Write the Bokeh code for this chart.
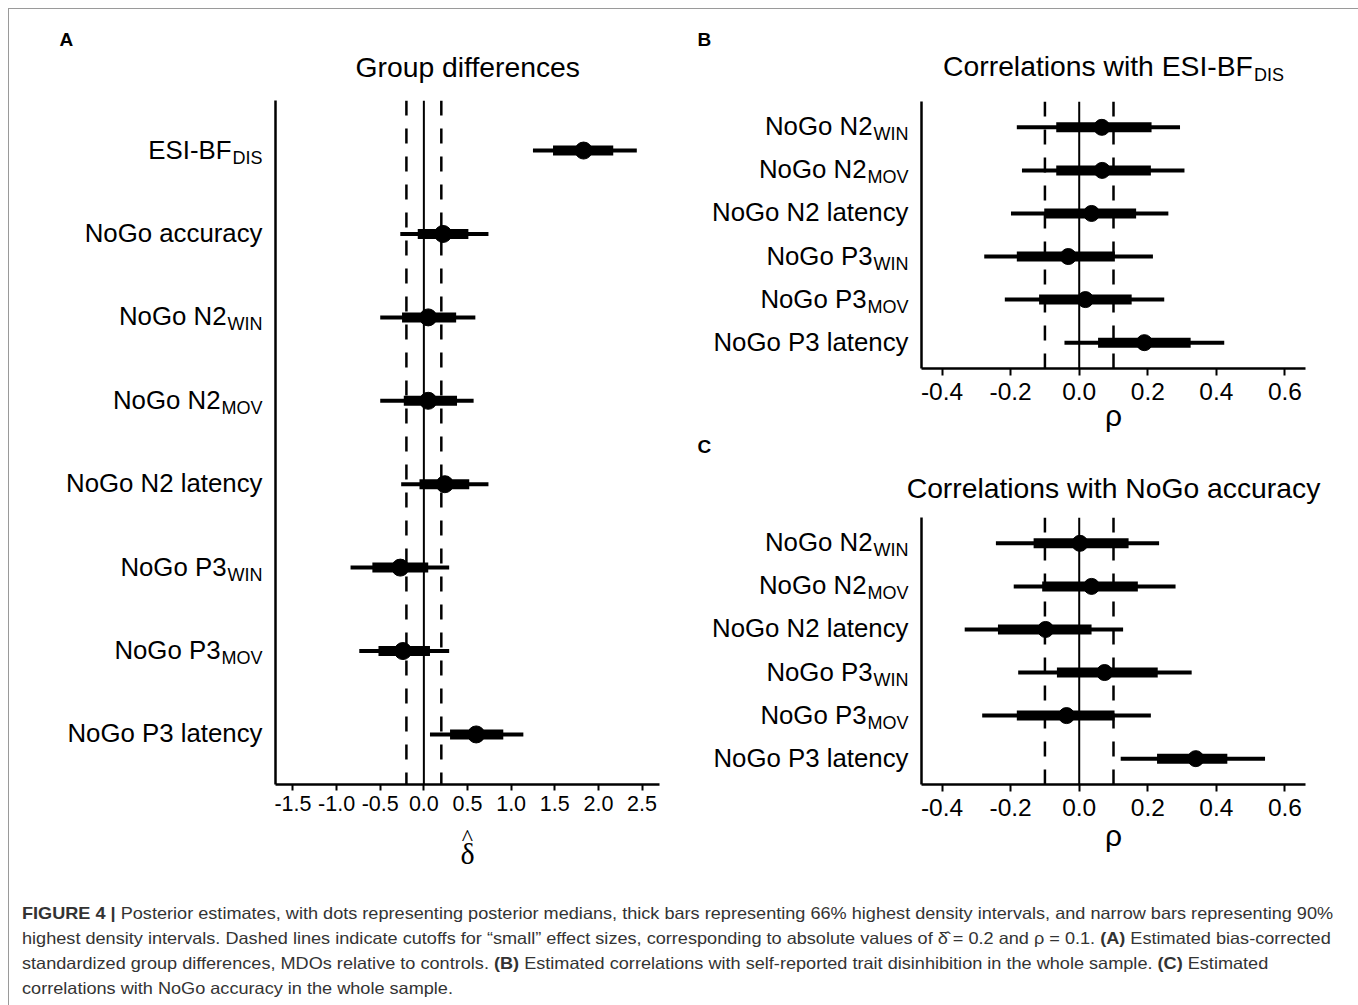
from bokeh.plotting import figure
from bokeh.models import Range1d, FixedTicker, Span, Div
from bokeh.layouts import column, row
from bokeh.core.properties import value
from bokeh.embed import file_html
from bokeh.resources import INLINE

FONT = "Liberation Sans"
SERIF = "Liberation Serif"

# ---------------- data ----------------
# Panel A: group differences (delta hat)
cats_A = ["ESI-BF", "NoGo accuracy", "NoGo N2", "NoGo N2", "NoGo N2 latency",
          "NoGo P3", "NoGo P3", "NoGo P3 latency"]
subs_A = ["DIS", "", "WIN", "MOV", "", "WIN", "MOV", ""]
med_A = [1.83, 0.22, 0.05, 0.05, 0.24, -0.27, -0.24, 0.60]
lo66_A = [1.48, -0.07, -0.25, -0.23, -0.05, -0.59, -0.52, 0.30]
hi66_A = [2.17, 0.51, 0.37, 0.38, 0.52, 0.05, 0.07, 0.91]
lo90_A = [1.25, -0.27, -0.50, -0.50, -0.26, -0.84, -0.74, 0.07]
hi90_A = [2.44, 0.74, 0.59, 0.57, 0.74, 0.29, 0.29, 1.14]
ticks_A = [-1.5, -1.0, -0.5, 0.0, 0.5, 1.0, 1.5, 2.0, 2.5]
tick_labels_A = ["-1.5", "-1.0", "-0.5", "0.0", "0.5", "1.0", "1.5", "2.0", "2.5"]
cutoffs_A = [-0.2, 0.2]

# Panels B and C: correlations (rho)
cats_BC = ["NoGo N2", "NoGo N2", "NoGo N2 latency", "NoGo P3", "NoGo P3", "NoGo P3 latency"]
subs_BC = ["WIN", "MOV", "", "WIN", "MOV", ""]
med_B = [0.066, 0.067, 0.036, -0.032, 0.018, 0.19]
lo66_B = [-0.067, -0.067, -0.102, -0.182, -0.117, 0.055]
hi66_B = [0.211, 0.209, 0.166, 0.104, 0.153, 0.325]
lo90_B = [-0.182, -0.167, -0.199, -0.277, -0.217, -0.043]
hi90_B = [0.294, 0.307, 0.260, 0.215, 0.248, 0.423]

med_C = [0.002, 0.036, -0.098, 0.074, -0.037, 0.34]
lo66_C = [-0.133, -0.108, -0.237, -0.065, -0.182, 0.227]
hi66_C = [0.144, 0.171, 0.036, 0.229, 0.103, 0.432]
lo90_C = [-0.243, -0.191, -0.334, -0.178, -0.283, 0.121]
hi90_C = [0.233, 0.281, 0.128, 0.328, 0.209, 0.542]

ticks_BC = [-0.4, -0.2, 0.0, 0.2, 0.4, 0.6]
tick_labels_BC = ["-0.4", "-0.2", "0.0", "0.2", "0.4", "0.6"]
cutoffs_BC = [-0.1, 0.1]

title_A = ("Group differences", "")
title_B = ("Correlations with ESI-BF", "DIS")
title_C = ("Correlations with NoGo accuracy", "")
xlabel_A = ("\u03b4", "^")
xlabel_BC = "\u03c1"

# ---------------- helpers ----------------
AW = {'A': 667, 'B': 667, 'C': 722, 'D': 722, 'E': 667, 'F': 611, 'G': 778, 'I': 278,
      'M': 833, 'N': 722, 'O': 778, 'P': 667, 'S': 667, 'V': 667, 'W': 944,
      'a': 556, 'c': 500, 'd': 556, 'e': 556, 'f': 278, 'h': 556, 'i': 222, 'l': 222,
      'n': 556, 'o': 556, 'p': 556, 'r': 333, 's': 500, 't': 278, 'u': 556, 'w': 722,
      'y': 500, ' ': 278, '-': 333}


def tw(s, size):
    return sum(AW.get(ch, 556) for ch in s) * size / 1000.0


CAT_SIZE = 25.8
SUB_SIZE = 18
TITLE_SIZE = 28.3
TITLE_SUB = 18
LETTER_SIZE = 19


def blank(w, h):
    """A figure whose frame is its whole canvas, used for text outside the plots."""
    p = figure(frame_width=w, frame_height=h, min_border=0,
               x_range=Range1d(0, w), y_range=Range1d(h, 0),
               x_axis_location=None, y_axis_location=None,
               output_backend="svg", toolbar_location=None, title=None)
    p.xgrid.visible = False
    p.ygrid.visible = False
    p.outline_line_color = None
    return p


def put(p, x, y, s, size, align="left", bold=False, font=FONT):
    p.text(x=[x], y=[y], text=[s], text_font=value(font), text_font_size=f"{size}px",
           text_font_style="bold" if bold else "normal", text_align=align,
           text_baseline="middle", text_color="black")


def plot_panel(frame_h, bottom, right, xr, n, med, lo66, hi66, lo90, hi90, ticks, tick_labels,
               cutoffs, tick_size, tick_out, standoff, dot, y_range, xlabel=None,
               xlabel_standoff=0):
    p = figure(frame_width=384, frame_height=frame_h,
               min_border_left=5, min_border_right=right, min_border_top=0,
               min_border_bottom=bottom,
               x_range=Range1d(xr[0], xr[1]), y_range=y_range,
               output_backend="svg", toolbar_location=None, title=None)
    p.xgrid.visible = False
    p.ygrid.visible = False
    p.outline_line_color = None

    ax = p.xaxis[0]
    ax.ticker = FixedTicker(ticks=ticks)
    ax.major_label_overrides = {t: l for t, l in zip(ticks, tick_labels)}
    ax.axis_line_width = 2.5
    ax.axis_line_color = "black"
    ax.major_tick_line_width = 2
    ax.major_tick_line_color = "black"
    ax.major_tick_in = 0
    ax.major_tick_out = tick_out
    ax.minor_tick_line_color = None
    ax.major_label_standoff = standoff
    ax.major_label_text_font = FONT
    ax.major_label_text_font_size = f"{tick_size}px"
    ax.major_label_text_color = "black"
    if xlabel:
        ax.axis_label = xlabel
        ax.axis_label_text_font = FONT
        ax.axis_label_text_font_size = "30px"
        ax.axis_label_text_font_style = "normal"
        ax.axis_label_text_color = "black"
        ax.axis_label_standoff = xlabel_standoff

    ay = p.yaxis[0]
    ay.ticker = FixedTicker(ticks=[])
    ay.axis_line_width = 2.5
    ay.axis_line_color = "black"
    ay.major_tick_line_color = None
    ay.minor_tick_line_color = None
    ay.major_label_text_font_size = "0px"

    p.add_layout(Span(location=0, dimension="height", line_color="black",
                      line_width=2, level="underlay"))
    for c in cutoffs:
        p.add_layout(Span(location=c, dimension="height", line_color="black",
                          line_width=2.5, line_dash="15 13", level="underlay"))

    ys = list(range(1, n + 1))
    p.segment(x0=lo90, y0=ys, x1=hi90, y1=ys, line_width=4, line_color="black")
    p.segment(x0=lo66, y0=ys, x1=hi66, y1=ys, line_width=10, line_color="black")
    p.scatter(x=med, y=ys, size=dot, fill_color="black", line_color="black")
    return p


def label_column(w, frame_h, bottom, y_range, cats, subs):
    n = len(cats)
    p = figure(frame_width=w, frame_height=frame_h, min_border=0, min_border_bottom=bottom,
               x_range=Range1d(0, w), y_range=y_range,
               x_axis_location=None, y_axis_location=None,
               output_backend="svg", toolbar_location=None, title=None)
    p.xgrid.visible = False
    p.ygrid.visible = False
    p.outline_line_color = None
    ppu = frame_h / (n + 0.2)
    for i, (c, s) in enumerate(zip(cats, subs)):
        yrow = i + 1
        sw = tw(s, SUB_SIZE) + 1 if s else 0
        put(p, w - 8 - sw, yrow - 1 / ppu, c, CAT_SIZE, align="right")
        if s:
            put(p, w - 8, yrow + 7 / ppu, s, SUB_SIZE, align="right")
    return p


def title_text(p, cx, ymid, title, sub_mid=None):
    main, sub = title
    mw = tw(main, TITLE_SIZE)
    sw = tw(sub, TITLE_SUB) + 1 if sub else 0
    boundary = cx + (mw - sw) / 2.0
    put(p, boundary, ymid, main, TITLE_SIZE, align="right")
    if sub:
        put(p, boundary + 1, sub_mid, sub, TITLE_SUB, align="left")


# ---------------- panel A (left column) ----------------
yrA = Range1d(len(cats_A) + 0.6, 0.4)
headA = blank(671, 91)
put(headA, 50, 30, "A", LETTER_SIZE, bold=True)
title_text(headA, 458, 57, title_A)

labA = label_column(261, 684, 40, yrA, cats_A, subs_A)
pA = plot_panel(684, 40, 21, (-1.7, 2.7), len(cats_A), med_A, lo66_A, hi66_A, lo90_A, hi90_A,
                ticks_A, tick_labels_A, cutoffs_A, 21.5, 6, 5, 17, yrA)
footA = blank(671, 46)
put(footA, 458, 29.2, xlabel_A[0], 30, align="center", font=SERIF)
put(footA, 458, 12.9, xlabel_A[1], 24, align="center", font=SERIF)

left = column(headA, row(labA, pA), footA)

# ---------------- panels B and C (right column) ----------------
yrB = Range1d(len(cats_BC) + 0.6, 0.4)
yrC = Range1d(len(cats_BC) + 0.6, 0.4)

headB = blank(674, 92)
put(headB, 17, 30, "B", LETTER_SIZE, bold=True)
title_text(headB, 433, 56.8, title_B, sub_mid=65)

labB = label_column(236, 267, 66, yrB, cats_BC, subs_BC)
pB = plot_panel(267, 66, 49, (-0.46, 0.66), len(cats_BC), med_B, lo66_B, hi66_B, lo90_B, hi90_B,
                ticks_BC, tick_labels_BC, cutoffs_BC, 24.5, 7, 7, 16, yrB,
                xlabel=xlabel_BC, xlabel_standoff=-4)

midBC = blank(674, 83)
put(midBC, 17, 11.5, "C", LETTER_SIZE, bold=True)
title_text(midBC, 433, 53.4, title_C)

labC = label_column(236, 267, 86, yrC, cats_BC, subs_BC)
pC = plot_panel(267, 86, 49, (-0.46, 0.66), len(cats_BC), med_C, lo66_C, hi66_C, lo90_C, hi90_C,
                ticks_BC, tick_labels_BC, cutoffs_BC, 24.5, 7, 7, 16, yrC,
                xlabel=xlabel_BC, xlabel_standoff=0)

right = column(headB, row(labB, pB), midBC, row(labC, pC))

# ---------------- caption ----------------
caption_lines = [
    "<b>FIGURE 4 |</b> Posterior estimates, with dots representing posterior medians, thick bars "
    "representing 66% highest density intervals, and narrow bars representing 90%",
    "highest density intervals. Dashed lines indicate cutoffs for \u201csmall\u201d effect sizes, "
    "corresponding to absolute values of \u03b4\u0302 = 0.2 and \u03c1 = 0.1. <b>(A)</b> Estimated "
    "bias-corrected",
    "standardized group differences, MDOs relative to controls. <b>(B)</b> Estimated correlations "
    "with self-reported trait disinhibition in the whole sample. <b>(C)</b> Estimated",
    "correlations with NoGo accuracy in the whole sample.",
]
caption_html = (
    '<div style="padding:25.5px 0 0 8px;">'
    '<div style="font-family:\'Liberation Sans\', Arial, sans-serif; font-size:16.5px; '
    'line-height:25px; color:#333333; white-space:nowrap; '
    'transform:scaleX(1.098); transform-origin:0 0;">'
    + "<br>".join(caption_lines) + "</div></div>"
)
cap = Div(text=caption_html, width=1345, height=125)

layout = column(row(left, right), cap, margin=(8, 0, 0, 8),
                styles={"border": "1px solid #9a9a9a", "border-bottom": "none"})

open("out.html", "w").write(file_html(layout, INLINE))
